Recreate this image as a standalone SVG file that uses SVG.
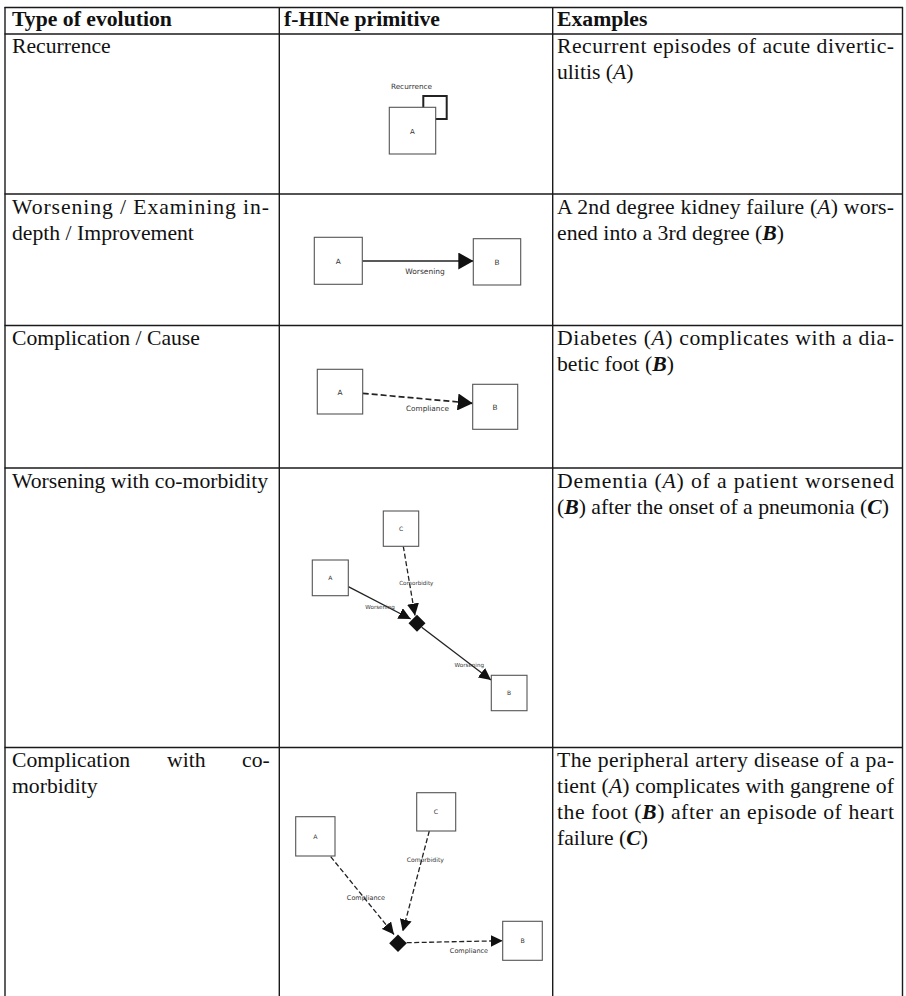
<svg xmlns="http://www.w3.org/2000/svg" width="906" height="996" viewBox="0 0 906 996">
<style>
.grid{stroke:#1a1a1a;stroke-width:1.4;fill:none}
.t{font-family:"Liberation Serif","Times New Roman",serif;font-size:21.7px;fill:#111}
.h{font-weight:bold}
.i{font-style:italic}
.bi{font-style:italic;font-weight:bold}
.box{fill:#fff;stroke:#555;stroke-width:1.1}
.lbl{font-family:"DejaVu Sans",Verdana,sans-serif;fill:#333;text-anchor:middle}
.solid{stroke:#222;fill:none}
.dash{stroke:#222;fill:none}
.dia{fill:#111}
</style>
<defs>
<marker id="arL" markerUnits="userSpaceOnUse" viewBox="0 0 15 17" refX="15" refY="8.5" markerWidth="15" markerHeight="17" orient="auto"><path d="M0,0 L15,8.5 L0,17 Z" fill="#111"/></marker>
<marker id="arS" markerUnits="userSpaceOnUse" viewBox="0 0 12 12" refX="12" refY="6" markerWidth="12" markerHeight="12" orient="auto"><path d="M0,0 L12,6 L0,12 Z" fill="#111"/></marker>
</defs>
<rect width="906" height="996" fill="#fff"/>

<g id="table">
<line class="grid" x1="4.5" y1="7.5" x2="903" y2="7.5"/>
<line class="grid" x1="4.5" y1="34" x2="903" y2="34"/>
<line class="grid" x1="4.5" y1="194" x2="903" y2="194"/>
<line class="grid" x1="4.5" y1="325.5" x2="903" y2="325.5"/>
<line class="grid" x1="4.5" y1="468" x2="903" y2="468"/>
<line class="grid" x1="4.5" y1="747.5" x2="903" y2="747.5"/>
<line class="grid" x1="5" y1="7" x2="5" y2="996"/>
<line class="grid" x1="279.3" y1="7" x2="279.3" y2="996"/>
<line class="grid" x1="552.7" y1="7" x2="552.7" y2="996"/>
<line class="grid" x1="902.5" y1="7" x2="902.5" y2="996"/>
</g>

<g id="header">
<text class="t h" x="12" y="26">Type of evolution</text>
<text class="t h" x="284" y="26">f-HINe primitive</text>
<text class="t h" x="557" y="26">Examples</text>
</g>

<g id="col-type">
<text class="t" x="12" y="53">Recurrence</text>
<text class="t" x="12" y="213.5" textLength="257" lengthAdjust="spacing">Worsening / Examining in-</text>
<text class="t" x="12" y="239.5">depth / Improvement</text>
<text class="t" x="12" y="345">Complication / Cause</text>
<text class="t" x="12" y="488">Worsening with co-morbidity</text>
<text class="t" y="767"><tspan x="12">Complication</tspan><tspan x="167">with</tspan><tspan x="242">co-</tspan></text>
<text class="t" x="12" y="793">morbidity</text>
</g>

<g id="col-examples">
<text class="t" x="557" y="53" textLength="337" lengthAdjust="spacing">Recurrent episodes of acute divertic-</text>
<text class="t" x="557" y="79">ulitis (<tspan class="i">A</tspan>)</text>
<text class="t" x="557" y="213.5" textLength="337" lengthAdjust="spacing">A 2nd degree kidney failure (<tspan class="i">A</tspan>) wors-</text>
<text class="t" x="557" y="239.5">ened into a 3rd degree (<tspan class="bi">B</tspan>)</text>
<text class="t" x="557" y="345" textLength="337" lengthAdjust="spacing">Diabetes (<tspan class="i">A</tspan>) complicates with a dia-</text>
<text class="t" x="557" y="371">betic foot (<tspan class="bi">B</tspan>)</text>
<text class="t" x="557" y="488" textLength="337" lengthAdjust="spacing">Dementia (<tspan class="i">A</tspan>) of a patient worsened</text>
<text class="t" x="557" y="514">(<tspan class="bi">B</tspan>) after the onset of a pneumonia (<tspan class="bi">C</tspan>)</text>
<text class="t" x="557" y="767" textLength="337" lengthAdjust="spacing">The peripheral artery disease of a pa-</text>
<text class="t" x="557" y="793" textLength="337" lengthAdjust="spacing">tient (<tspan class="i">A</tspan>) complicates with gangrene of</text>
<text class="t" x="557" y="819" textLength="337" lengthAdjust="spacing">the foot (<tspan class="bi">B</tspan>) after an episode of heart</text>
<text class="t" x="557" y="845">failure (<tspan class="bi">C</tspan>)</text>
</g>

<g id="connectors">
<!-- row 1 recurrence loop -->
<rect x="423.3" y="96" width="23.4" height="23" fill="none" stroke="#222" stroke-width="2"/>
<!-- row 2 -->
<line class="solid" stroke-width="1.7" x1="362.3" y1="261" x2="473.3" y2="261" marker-end="url(#arL)"/>
<!-- row 3 -->
<line class="dash" stroke-width="1.7" stroke-dasharray="6 3" x1="362.7" y1="393.3" x2="472.7" y2="403.3" marker-end="url(#arL)"/>
<!-- row 4 -->
<line class="solid" stroke-width="1.3" x1="348.3" y1="586.7" x2="410.7" y2="619" marker-end="url(#arS)"/>
<line class="dash" stroke-width="1.3" stroke-dasharray="5 2.5" x1="403.3" y1="546.3" x2="415" y2="615.5" marker-end="url(#arS)"/>
<line class="solid" stroke-width="1.3" x1="421.7" y1="627.3" x2="491" y2="680" marker-end="url(#arS)"/>
<!-- row 5 -->
<line class="dash" stroke-width="1.3" stroke-dasharray="5 2.5" x1="330.7" y1="856.7" x2="394" y2="934.5" marker-end="url(#arS)"/>
<line class="dash" stroke-width="1.3" stroke-dasharray="5 2.5" x1="429.3" y1="831" x2="402.7" y2="931.5" marker-end="url(#arS)"/>
<line class="dash" stroke-width="1.3" stroke-dasharray="5 2.5" x1="406.7" y1="942.7" x2="502.7" y2="940.7" marker-end="url(#arS)"/>
</g>

<g id="r1-A"><rect class="box" x="389.3" y="107.3" width="46.4" height="46.7"/><text class="lbl" x="412.5" y="133.5" font-size="7">A</text></g>
<g id="r1-label"><text class="lbl" x="411.5" y="88.5" font-size="7.3">Recurrence</text></g>

<g id="r2-A"><rect class="box" x="314.3" y="237.3" width="48" height="47"/><text class="lbl" x="338.3" y="263.5" font-size="7.3">A</text></g>
<g id="r2-B"><rect class="box" x="473.3" y="238.7" width="47.4" height="46.3"/><text class="lbl" x="497" y="264.5" font-size="7.3">B</text></g>
<g id="r2-label"><text class="lbl" x="425" y="273.5" font-size="7.5">Worsening</text></g>

<g id="r3-A"><rect class="box" x="317.3" y="369.3" width="45.4" height="44.7"/><text class="lbl" x="340" y="394.5" font-size="7.3">A</text></g>
<g id="r3-B"><rect class="box" x="472.7" y="384.3" width="45" height="45"/><text class="lbl" x="495" y="409.5" font-size="7.3">B</text></g>
<g id="r3-label"><text class="lbl" x="427.5" y="410.5" font-size="7.3">Compliance</text></g>

<g id="r4-C"><rect class="box" x="383.3" y="511" width="35.4" height="35.3"/><text class="lbl" x="401" y="531" font-size="6">C</text></g>
<g id="r4-A"><rect class="box" x="312.3" y="560" width="36" height="35.7"/><text class="lbl" x="330.3" y="580" font-size="6">A</text></g>
<g id="r4-B"><rect class="box" x="491.3" y="675.3" width="35.7" height="35.4"/><text class="lbl" x="509" y="695" font-size="6">B</text></g>
<g id="r4-D"><polygon class="dia" points="417,614.8 425.5,623.3 417,631.8 408.5,623.3"/></g>
<g id="r4-labels">
<text class="lbl" x="380" y="609" font-size="5.6">Worsening</text>
<text class="lbl" x="416.3" y="584.5" font-size="5.6">Comorbidity</text>
<text class="lbl" x="469.3" y="667" font-size="5.6">Worsening</text>
</g>

<g id="r5-A"><rect class="box" x="295.7" y="816.7" width="39.3" height="39.3"/><text class="lbl" x="315.3" y="838.5" font-size="6.2">A</text></g>
<g id="r5-C"><rect class="box" x="416.7" y="792.7" width="39" height="38.3"/><text class="lbl" x="436" y="814" font-size="6.2">C</text></g>
<g id="r5-B"><rect class="box" x="502.7" y="921.3" width="39.6" height="39"/><text class="lbl" x="522.5" y="943" font-size="6.2">B</text></g>
<g id="r5-D"><polygon class="dia" points="398,934.5 406.8,943.3 398,952.1 389.2,943.3"/></g>
<g id="r5-labels">
<text class="lbl" x="366" y="899.5" font-size="6.5">Compliance</text>
<text class="lbl" x="425.3" y="861.5" font-size="6.1">Comorbidity</text>
<text class="lbl" x="469" y="952.5" font-size="6.5">Compliance</text>
</g>
</svg>
